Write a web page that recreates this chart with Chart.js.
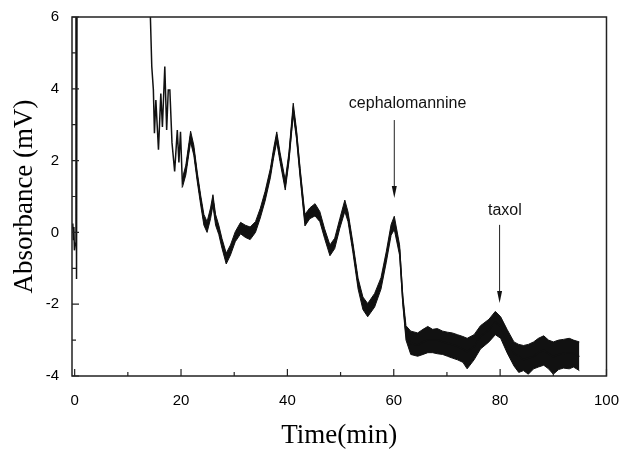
<!DOCTYPE html>
<html>
<head>
<meta charset="utf-8">
<script src="https://cdn.jsdelivr.net/npm/chart.js@4"></script>
<style>
  html, body { margin: 0; padding: 0; background: #fff; }
  #chart { display: block; }
</style>
</head>
<body>
<canvas id="chart" width="627" height="449"></canvas>
<script>
// Chromatogram trace (time in min, absorbance in mV).
// Values above 6 run off the top of the plot (detector saturated).
const signalTime = [-0.45, -0.35, -0.25, -0.15, -0.05, 0.1, 0.25, 0.35, 0.45, 14.05,
    14.5, 14.8, 15.0, 15.27, 15.76, 16.2, 16.5, 16.95, 17.3, 17.6, 17.9, 18.3, 18.8,
    19.3, 19.6, 19.9,
    20.25, 20.9, 21.8, 22.4, 23.05, 23.7, 24.3, 24.9, 25.55, 26.0, 26.5, 27.1, 27.7,
    28.5, 29.3, 30.2, 31.2, 32.1, 33.0, 34.0, 34.9, 35.8, 36.8, 37.4, 38.0, 38.6,
    39.6, 40.3, 41.1, 41.7, 42.4, 43.3, 44.2, 45.2, 46.1, 47.0, 48.0, 48.9, 49.85,
    50.8, 51.4, 52.3, 53.3, 54.2, 55.1, 56.4, 57.6, 58.6, 59.5, 60.1, 61.1, 61.7,
    62.3, 63.2, 64.5, 65.5, 66.4, 67.3, 68.2, 69.2, 70.1, 71.0, 72.0, 73.0, 73.8,
    75.1, 76.3, 77.9, 79.1, 80.1, 81.3, 82.6, 83.5, 84.4, 85.3, 86.3, 87.2, 88.2,
    89.1, 90.0, 91.0, 91.9, 93.0, 93.8, 94.9];
const signalValue = [0.1, 0.25, -0.2, 0.15, -0.5, -0.3, 7, -1.3, 7, 7,
    4.62, 3.97, 2.76, 3.69, 2.3, 3.87, 2.94, 4.62, 2.85, 3.97, 3.97, 2.5, 1.7,
    2.85, 1.95, 2.8,
    1.37, 1.74, 2.67, 2.3, 1.55, 0.9, 0.35, 0.16, 0.53, 0.9, 0.35, 0.07, -0.3,
    -0.72, -0.49, -0.12, 0.11, 0.02, -0.03, 0.16, 0.53, 1.0, 1.65, 2.2, 2.67, 2.11,
    1.32, 2.11, 3.41, 2.76, 1.65, 0.35, 0.53, 0.62, 0.44, -0.03, -0.49, -0.3, 0.25,
    0.72, 0.44, -0.4, -1.42, -1.97, -2.16, -1.88, -1.42, -0.68, 0.07, 0.25, -0.49, -1.88,
    -2.81, -3.09, -3.14, -3.05, -3.0, -3.0, -3.0, -3.05, -3.09, -3.12, -3.18, -3.25, -3.32,
    -3.18, -2.9, -2.72, -2.49, -2.63, -3.0, -3.37, -3.45, -3.55, -3.5, -3.46, -3.35, -3.28,
    -3.38, -3.46, -3.4, -3.37, -3.35, -3.37, -3.46];

// Upper / lower edge of the noise band around the trace
const bandTime = [20.25, 20.9, 21.8, 22.4, 23.05, 23.7, 24.3, 24.9, 25.55, 26.0, 26.5,
    27.1, 27.7, 28.5, 29.3, 30.2, 31.2, 32.1, 33.0, 34.0, 34.9, 35.8, 36.8, 37.4,
    38.0, 38.6, 39.6, 40.3, 41.1, 41.7, 42.4, 43.3, 44.2, 45.2, 46.1, 47.0, 48.0,
    48.9, 49.85, 50.8, 51.4, 52.3, 53.3, 54.2, 55.1, 56.4, 57.6, 58.6, 59.5, 60.1,
    61.1, 61.7, 62.3, 63.2, 64.5, 65.5, 66.4, 67.3, 68.2, 69.2, 70.1, 71.0, 72.0,
    73.0, 73.8, 75.1, 76.3, 77.9, 79.1, 80.1, 81.3, 82.6, 83.5, 84.4, 85.3, 86.3,
    87.2, 88.2, 89.1, 90.0, 91.0, 91.9, 93.0, 93.8, 94.9];
const bandHigh = [1.5, 1.87, 2.82, 2.43, 1.68, 1.03, 0.5, 0.3, 0.68, 1.05, 0.5,
    0.2, -0.17, -0.58, -0.35, 0.02, 0.28, 0.2, 0.15, 0.3, 0.67, 1.14, 1.78, 2.33,
    2.8, 2.24, 1.45, 2.24, 3.6, 2.88, 1.78, 0.5, 0.68, 0.8, 0.58, 0.1, -0.35,
    -0.16, 0.38, 0.9, 0.57, -0.27, -1.28, -1.8, -1.98, -1.7, -1.26, -0.53, 0.22, 0.45,
    -0.35, -1.75, -2.6, -2.75, -2.8, -2.7, -2.62, -2.7, -2.68, -2.75, -2.78, -2.8, -2.85,
    -2.9, -2.95, -2.85, -2.6, -2.42, -2.2, -2.35, -2.7, -3.05, -3.12, -3.15, -3.12, -3.05,
    -2.95, -2.88, -3.0, -3.05, -3.0, -2.98, -2.95, -3.0, -3.05];
const bandLow = [1.25, 1.6, 2.52, 2.15, 1.42, 0.76, 0.2, 0.0, 0.38, 0.75, 0.2,
    -0.06, -0.44, -0.88, -0.63, -0.26, -0.04, -0.14, -0.2, 0.0, 0.4, 0.87, 1.52, 2.07,
    2.52, 1.98, 1.18, 1.98, 3.28, 2.62, 1.52, 0.18, 0.38, 0.46, 0.3, -0.17, -0.65,
    -0.45, 0.11, 0.58, 0.3, -0.54, -1.58, -2.15, -2.35, -2.08, -1.58, -0.83, -0.08, 0.08,
    -0.64, -2.0, -3.0, -3.4, -3.45, -3.4, -3.35, -3.35, -3.38, -3.4, -3.45, -3.5, -3.55,
    -3.62, -3.8, -3.55, -3.25, -3.05, -2.85, -2.95, -3.35, -3.72, -3.9, -3.85, -3.95, -3.8,
    -3.75, -3.7, -3.8, -3.95, -3.82, -3.78, -3.8, -3.75, -3.85];

const xTicks = [0, 20, 40, 60, 80, 100];
const xMinorTicks = [10, 30, 50, 70, 90];
const yTicks = [-4, -2, 0, 2, 4, 6];
const yMinorTicks = [-3, -1, 1, 3, 5];

// Peak labels with their arrows
const peakNames = ['cephalomannine', 'taxol'];
const peakLabelX = [62.6, 80.9];
const peakLabelY = [3.6, 0.6];
const arrowX = [60.1, 79.9];
const arrowFrom = [3.13, 0.21];
const arrowTo = [0.96, -1.97];

const toPoints = (xs, ys) => xs.map((x, i) => ({ x: x, y: ys[i] }));

// Frame, inward ticks, axis titles and peak labels
const decorations = {
    id: 'decorations',
    afterDraw(chart) {
        const ctx = chart.ctx;
        const area = chart.chartArea;
        const xs = chart.scales.x;
        const ys = chart.scales.y;
        ctx.save();

        ctx.strokeStyle = '#222';
        ctx.lineWidth = 1.5;
        ctx.strokeRect(area.left, area.top, area.right - area.left, area.bottom - area.top);

        ctx.lineWidth = 1.2;
        ctx.beginPath();
        xTicks.forEach(v => {
            const px = xs.getPixelForValue(v);
            ctx.moveTo(px, area.bottom);
            ctx.lineTo(px, area.bottom - 7);
        });
        xMinorTicks.forEach(v => {
            const px = xs.getPixelForValue(v);
            ctx.moveTo(px, area.bottom);
            ctx.lineTo(px, area.bottom - 4);
        });
        yTicks.forEach(v => {
            const py = ys.getPixelForValue(v);
            ctx.moveTo(area.left, py);
            ctx.lineTo(area.left + 7, py);
        });
        yMinorTicks.forEach(v => {
            const py = ys.getPixelForValue(v);
            ctx.moveTo(area.left, py);
            ctx.lineTo(area.left + 4, py);
        });
        ctx.stroke();

        // axis titles
        ctx.fillStyle = '#000';
        ctx.font = '27px "Liberation Serif"';
        ctx.textAlign = 'center';
        ctx.textBaseline = 'middle';
        ctx.fillText('Time(min)', (area.left + area.right) / 2, 436);
        ctx.save();
        ctx.translate(25, (area.top + area.bottom) / 2);
        ctx.rotate(-Math.PI / 2);
        ctx.fillText('Absorbance (mV)', 0, 0);
        ctx.restore();

        // peak labels and arrows
        ctx.font = '16px "Liberation Sans"';
        ctx.strokeStyle = '#222';
        ctx.fillStyle = '#111';
        ctx.lineWidth = 1;
        peakNames.forEach((name, i) => {
            ctx.fillText(name, xs.getPixelForValue(peakLabelX[i]), ys.getPixelForValue(peakLabelY[i]));
            const ax = xs.getPixelForValue(arrowX[i]);
            const y0 = ys.getPixelForValue(arrowFrom[i]);
            const y1 = ys.getPixelForValue(arrowTo[i]);
            ctx.beginPath();
            ctx.moveTo(ax, y0);
            ctx.lineTo(ax, y1 - 10);
            ctx.stroke();
            ctx.beginPath();
            ctx.moveTo(ax - 2.5, y1 - 12);
            ctx.lineTo(ax + 2.5, y1 - 12);
            ctx.lineTo(ax, y1);
            ctx.closePath();
            ctx.fill();
        });
        ctx.restore();
    }
};

new Chart(document.getElementById('chart'), {
    type: 'line',
    data: {
        datasets: [
            {
                label: 'signal',
                data: toPoints(signalTime, signalValue),
                borderColor: '#111',
                borderWidth: 1.5,
                pointRadius: 0,
                tension: 0,
                fill: false
            },
            {
                label: 'band high',
                data: toPoints(bandTime, bandHigh),
                borderColor: '#111',
                borderWidth: 1,
                pointRadius: 0,
                tension: 0,
                fill: false
            },
            {
                label: 'band low',
                data: toPoints(bandTime, bandLow),
                borderColor: '#111',
                backgroundColor: '#111',
                borderWidth: 1,
                pointRadius: 0,
                tension: 0,
                fill: '-1'
            }
        ]
    },
    options: {
        responsive: false,
        animation: false,
        devicePixelRatio: 1,
        layout: { padding: { top: 17, right: 17, left: 0, bottom: 0 } },
        plugins: {
            legend: { display: false },
            tooltip: { enabled: false }
        },
        scales: {
            x: {
                type: 'linear',
                min: -0.5,
                max: 100,
                afterBuildTicks: s => { s.ticks = xTicks.map(v => ({ value: v })); },
                afterFit: s => { s.height = 73; },
                grid: { display: false },
                border: { display: false },
                ticks: {
                    color: '#000',
                    font: { family: 'Liberation Sans', size: 15 },
                    padding: 8,
                    maxRotation: 0
                }
            },
            y: {
                type: 'linear',
                min: -4,
                max: 6,
                afterBuildTicks: s => { s.ticks = yTicks.map(v => ({ value: v })); },
                afterFit: s => { s.width = 72; },
                grid: { display: false },
                border: { display: false },
                ticks: {
                    color: '#000',
                    font: { family: 'Liberation Sans', size: 15 },
                    padding: 5
                }
            }
        }
    },
    plugins: [decorations]
});
</script>
</body>
</html>
